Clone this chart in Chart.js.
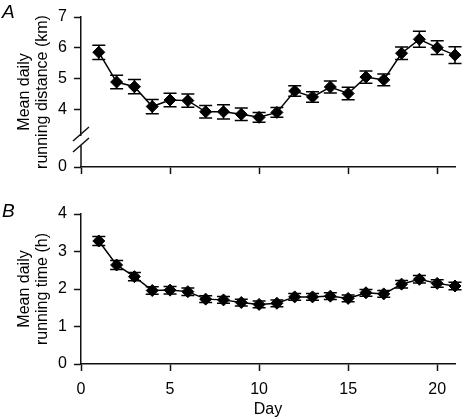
<!DOCTYPE html>
<html>
<head>
<meta charset="utf-8">
<script src="https://cdn.jsdelivr.net/npm/chart.js@4.4.0/dist/chart.umd.min.js"></script>
<style>
  html, body { margin: 0; padding: 0; background: #fff; }
  #wrap { position: relative; width: 462px; height: 418px; }
  .panel { position: absolute; left: 0; width: 462px; }
  #boxA { top: 0; height: 190px; }
  #boxB { top: 190px; height: 228px; }
</style>
</head>
<body>
<div id="wrap">
  <div class="panel" id="boxA"><canvas id="chartA"></canvas></div>
  <div class="panel" id="boxB"><canvas id="chartB"></canvas></div>
</div>
<script>
// values
const days = [1, 2, 3, 4, 5, 6, 7, 8, 9, 10, 11, 12, 13, 14, 15, 16, 17, 18, 19, 20, 21];
const distance = [5.86, 4.90, 4.75, 4.11, 4.32, 4.30, 3.94, 3.94, 3.86, 3.76, 3.92,
                  4.61, 4.42, 4.74, 4.53, 5.06, 4.97, 5.83, 6.28, 6.01, 5.77];
const distanceErr = [0.23, 0.22, 0.23, 0.23, 0.22, 0.21, 0.20, 0.23, 0.20, 0.16, 0.16,
                     0.17, 0.17, 0.19, 0.20, 0.20, 0.19, 0.20, 0.26, 0.22, 0.27];
const time = [3.28, 2.64, 2.33, 1.96, 1.97, 1.93, 1.73, 1.71, 1.64, 1.59, 1.62,
              1.79, 1.79, 1.81, 1.75, 1.90, 1.87, 2.13, 2.26, 2.15, 2.08];
const timeErr = [0.12, 0.12, 0.11, 0.10, 0.10, 0.10, 0.09, 0.09, 0.09, 0.09, 0.09,
                 0.09, 0.09, 0.09, 0.09, 0.09, 0.09, 0.10, 0.10, 0.10, 0.10];
const dayTicks = [0, 5, 10, 15, 20];
const distanceTicks = [4, 5, 6, 7];
const distanceLowTicks = [0];
const timeTicks = [0, 1, 2, 3, 4];

Chart.defaults.font.family = '"Liberation Sans", Arial, sans-serif';
Chart.defaults.font.size = 16;
Chart.defaults.color = '#000';

const AXIS = '#111';

const errorBars = {
  id: 'errorBars',
  beforeDatasetsDraw(chart, args, opts) {
    const meta = chart.getDatasetMeta(0);
    const ys = chart.scales[meta.yAxisID];
    const pts = chart.data.datasets[0].data;
    const ctx = chart.ctx;
    ctx.save();
    ctx.strokeStyle = '#000';
    ctx.lineWidth = 1.5;
    meta.data.forEach((el, i) => {
      const v = pts[i].y, e = opts.errors[i];
      const t = ys.getPixelForValue(v + e), b = ys.getPixelForValue(v - e);
      ctx.beginPath();
      ctx.moveTo(el.x, t); ctx.lineTo(el.x, b);
      ctx.moveTo(el.x - 6.5, t); ctx.lineTo(el.x + 6.5, t);
      ctx.moveTo(el.x - 6.5, b); ctx.lineTo(el.x + 6.5, b);
      ctx.stroke();
    });
    ctx.restore();
  }
};

const panelText = {
  id: 'panelText',
  afterDraw(chart, args, opts) {
    const ctx = chart.ctx;
    const area = chart.chartArea;
    ctx.save();
    ctx.fillStyle = '#000';
    // panel letter
    ctx.font = 'italic 19px "Liberation Sans", Arial, sans-serif';
    ctx.textAlign = 'left';
    ctx.textBaseline = 'alphabetic';
    ctx.fillText(opts.letter, 2, opts.letterY);
    // y axis title, two lines
    ctx.font = '16px "Liberation Sans", Arial, sans-serif';
    ctx.textAlign = 'center';
    ctx.textBaseline = 'middle';
    const cy = (area.top + area.bottom) / 2;
    opts.title.forEach((line, k) => {
      ctx.save();
      ctx.translate(25 + k * 18, cy);
      ctx.rotate(-Math.PI / 2);
      ctx.fillText(line, 0, 0);
      ctx.restore();
    });
    // axis break
    if (opts.breakAxis) {
      const low = chart.scales[opts.breakAxis];
      const x = low.right;
      const y1 = low.top - 1, y2 = low.top + 10;
      ctx.strokeStyle = AXIS;
      ctx.lineWidth = 1.5;
      ctx.beginPath();
      ctx.moveTo(x, y2); ctx.lineTo(x, low.bottom);
      ctx.moveTo(x - 8, y1 + 7); ctx.lineTo(x + 8, y1 - 7);
      ctx.moveTo(x - 8, y2 + 7); ctx.lineTo(x + 8, y2 - 7);
      ctx.stroke();
    }
    ctx.restore();
  }
};

function fixedTicks(list) {
  return scale => { scale.ticks = list.map(v => ({ value: v })); };
}

const gridOpts = { drawOnChartArea: false, tickLength: 7, tickColor: AXIS, tickWidth: 1.5 };
const borderOpts = { color: AXIS, width: 1.5 };

function seriesDataset(values) {
  return {
    data: days.map((d, i) => ({ x: d, y: values[i] })),
    borderColor: '#000',
    borderWidth: 1.5,
    backgroundColor: '#000',
    pointStyle: 'rectRot',
    pointRadius: 6,
    pointBackgroundColor: '#000',
    pointBorderColor: '#000',
    pointBorderWidth: 1,
    tension: 0,
    clip: false
  };
}

const chartA = new Chart(document.getElementById('chartA'), {
  type: 'line',
  data: { datasets: [Object.assign(seriesDataset(distance), { yAxisID: 'yTop' })] },
  options: {
    responsive: true,
    maintainAspectRatio: false,
    animation: false,
    layout: { padding: { top: 17, right: 6, left: 0, bottom: 0 } },
    plugins: {
      legend: { display: false },
      tooltip: { enabled: false },
      errorBars: { errors: distanceErr },
      panelText: { letter: 'A', letterY: 18, title: ['Mean daily', 'running distance (km)'], breakAxis: 'yLow' }
    },
    scales: {
      x: {
        type: 'linear', min: 0, max: 21,
        afterBuildTicks: fixedTicks(dayTicks),
        afterFit: s => { s.height = 23; },
        grid: gridOpts, border: borderOpts,
        ticks: { callback: () => '' }
      },
      yLow: {
        type: 'linear', position: 'left', stack: 'dist', stackWeight: 32,
        min: 0, max: 1,
        afterBuildTicks: fixedTicks(distanceLowTicks),
        afterFit: s => { s.width = 81; },
        grid: gridOpts, border: { display: false },
        ticks: { padding: 7 }
      },
      yTop: {
        type: 'linear', position: 'left', stack: 'dist', stackWeight: 118,
        min: 3.19, max: 7,
        afterBuildTicks: fixedTicks(distanceTicks),
        afterFit: s => { s.width = 81; },
        grid: gridOpts, border: borderOpts,
        ticks: { padding: 7 }
      }
    }
  },
  plugins: [errorBars, panelText]
});

const chartB = new Chart(document.getElementById('chartB'), {
  type: 'line',
  data: { datasets: [seriesDataset(time)] },
  options: {
    responsive: true,
    maintainAspectRatio: false,
    animation: false,
    layout: { padding: { top: 24, right: 6, left: 0, bottom: 0 } },
    plugins: {
      legend: { display: false },
      tooltip: { enabled: false },
      errorBars: { errors: timeErr },
      panelText: { letter: 'B', letterY: 27, title: ['Mean daily', 'running time (h)'] }
    },
    scales: {
      x: {
        type: 'linear', min: 0, max: 21,
        afterBuildTicks: fixedTicks(dayTicks),
        afterFit: s => { s.height = 54; },
        grid: gridOpts, border: borderOpts,
        ticks: { padding: 9, maxRotation: 0 },
        title: { display: true, text: 'Day', padding: { top: 0, bottom: -1 } }
      },
      y: {
        type: 'linear', position: 'left', min: 0, max: 4,
        afterBuildTicks: fixedTicks(timeTicks),
        afterFit: s => { s.width = 81; },
        grid: gridOpts, border: borderOpts,
        ticks: { padding: 7 }
      }
    }
  },
  plugins: [errorBars, panelText]
});
</script>
</body>
</html>
